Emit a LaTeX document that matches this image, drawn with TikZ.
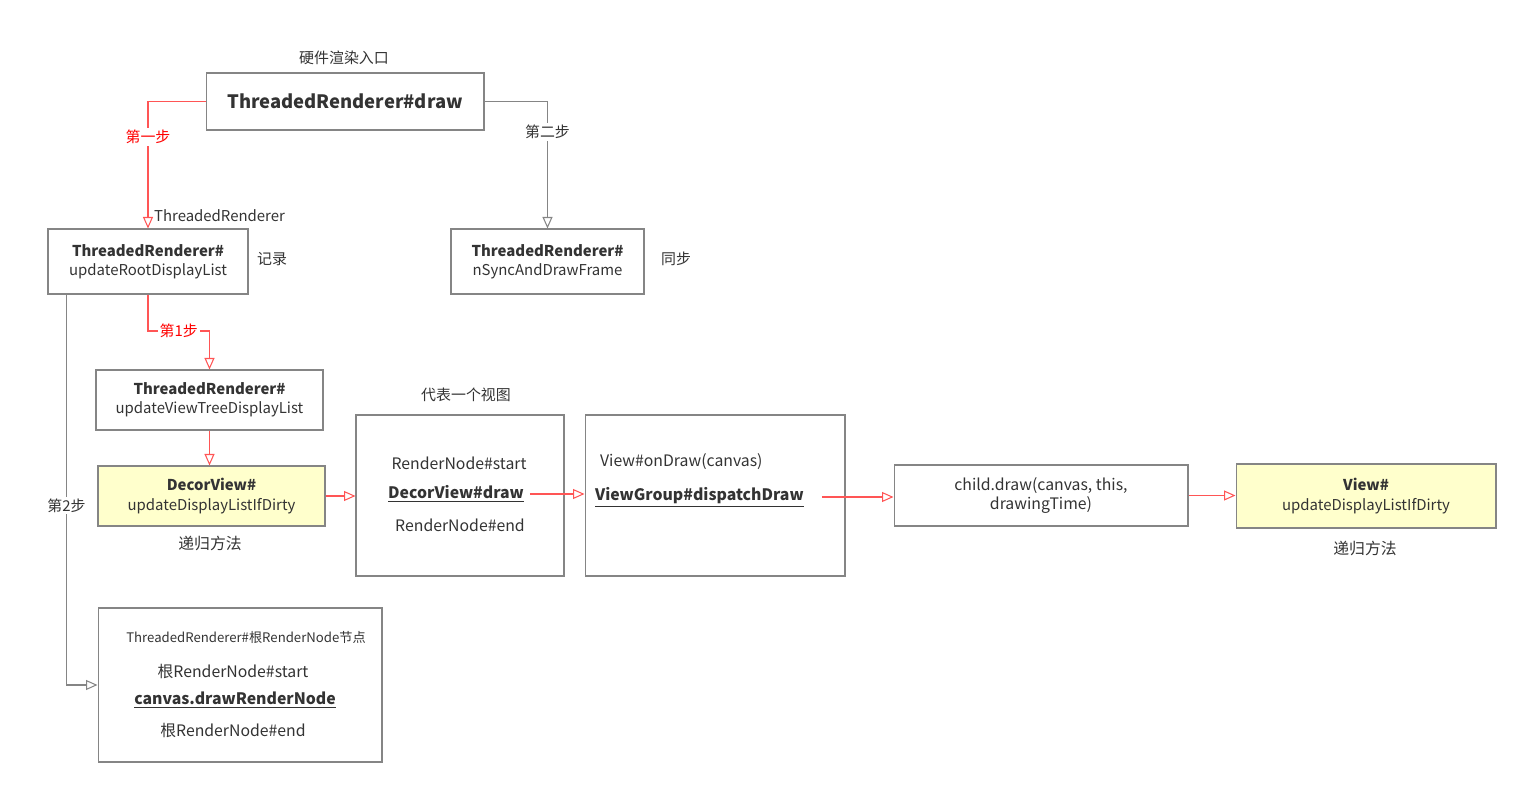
\documentclass[tikz,border=0pt]{standalone}
\usepackage{fontspec}
\setmainfont{Noto Sans CJK SC}
\usetikzlibrary{arrows.meta,positioning}
\definecolor{edgegray}{HTML}{858585}
\definecolor{linkred}{HTML}{FF5555}
\definecolor{notefill}{HTML}{FFFFCC}
\definecolor{txtgray}{HTML}{333333}

\begin{document}
\begin{tikzpicture}[x=0.02cm,y=-0.02cm,
  every node/.style={text=txtgray,font=\fontsize{8.5}{11}\selectfont},
  box/.style={draw=edgegray,line width=0.6pt,align=center,inner sep=0pt},
  notebox/.style={box,fill=notefill},
  lbl/.style={inner sep=1pt},
  redlink/.style={draw=linkred,line width=0.6pt,-{Triangle[open,length=2.3mm,width=2mm]}},
  graylink/.style={draw=edgegray,line width=0.6pt,-{Triangle[open,length=2.3mm,width=2mm]}}]
\useasboundingbox (0,0) rectangle (1528,794);

% boxes
\node[box,minimum width=5.56cm,minimum height=1.14cm,font=\fontsize{10.5}{12}\selectfont\bfseries] (draw) at (345,101.5) {ThreadedRenderer\#draw};
\node[lbl] (entry) at (344,58) {硬件渲染入口};
\node[box,minimum width=4cm,minimum height=1.3cm] (root) at (148,261.5) {\textbf{ThreadedRenderer\#}\\updateRootDisplayList};
\node[box,minimum width=3.86cm,minimum height=1.3cm] (sync) at (547.5,261.5) {\textbf{ThreadedRenderer\#}\\nSyncAndDrawFrame};
\node[lbl] (record) at (272,259) {记录};
\node[lbl] (syncnote) at (676,259) {同步};
\node[box,minimum width=4.54cm,minimum height=1.2cm] (viewtree) at (209.5,400) {\textbf{ThreadedRenderer\#}\\updateViewTreeDisplayList};
\node[notebox,minimum width=4.54cm,minimum height=1.2cm] (decor) at (211.5,496) {\textbf{DecorView\#}\\updateDisplayListIfDirty};
\node[lbl,font=\fontsize{9}{11}\selectfont] (recur1) at (210,543) {递归方法};

\node[box,minimum width=4.16cm,minimum height=3.22cm] (rnode) at (460,495.5) {};
\node[lbl] (viewnote) at (466,395) {代表一个视图};
\node[lbl,font=\fontsize{9}{11}\selectfont] (rnstart) at (459,463) {RenderNode\#start};
\node[lbl,font=\fontsize{9}{11}\selectfont\bfseries] (dvdraw) at (456,494) {\underline{DecorView\#draw}};
\node[lbl,font=\fontsize{9}{11}\selectfont] (rnend) at (460,525) {RenderNode\#end};

\node[box,minimum width=5.2cm,minimum height=3.22cm] (vgroup) at (715,495.5) {};
\node[lbl,anchor=west,font=\fontsize{9}{11}\selectfont] (ondraw) at (598,462) {View\#onDraw(canvas)};
\node[lbl,anchor=west,font=\fontsize{9}{11}\selectfont\bfseries] (dispatch) at (593,497) {\underline{ViewGroup\#dispatchDraw}};

\node[box,minimum width=5.88cm,minimum height=1.22cm,font=\fontsize{9}{11}\selectfont] (child) at (1041,495.5) {child.draw(canvas, this,\\drawingTime)};
\node[notebox,minimum width=5.2cm,minimum height=1.28cm] (view) at (1366,496) {\textbf{View\#}\\updateDisplayListIfDirty};
\node[lbl,font=\fontsize{9}{11}\selectfont] (recur2) at (1365,548) {递归方法};

\node[box,minimum width=5.68cm,minimum height=3.08cm] (rootrn) at (240,685) {};
\node[lbl,font=\fontsize{7.5}{9}\selectfont] (rootnote) at (246,637) {ThreadedRenderer\#根RenderNode节点};
\node[lbl,font=\fontsize{9}{11}\selectfont] (rootstart) at (233,671) {根RenderNode\#start};
\node[lbl,font=\fontsize{9}{11}\selectfont\bfseries] (drawrn) at (235,700) {\underline{canvas.drawRenderNode}};
\node[lbl,font=\fontsize{9}{11}\selectfont] (rootend) at (233,730) {根RenderNode\#end};

% links
\draw[redlink] (draw.west) -| (root.north)
  node[pos=0.64,fill=white,text=red,inner sep=1pt] {第一步};
\node[lbl,anchor=west] (trlabel) at (152,216) {ThreadedRenderer};
\draw[graylink] (draw.east) -| (sync.north)
  node[pos=0.62,fill=white,inner sep=1pt] {第二步};
\coordinate (bend1) at (148,331);
\draw[redlink] (root.south) -- (bend1) -| (viewtree.north)
  node[pos=0.25,fill=white,text=red,inner sep=1pt] {第1步};
\draw[redlink] (viewtree.south) -- (viewtree.south |- decor.north);
\draw[graylink] ([xshift=0.38cm]root.south west) |- (rootrn.west)
  node[pos=0.27,fill=white,inner sep=1pt] {第2步};
\draw[redlink] (decor.east) -- (decor.east -| rnode.west);
\draw[redlink] ([xshift=0.08cm]dvdraw.east) -- (dvdraw.east -| vgroup.west);
\draw[redlink] ([xshift=0.32cm]dispatch.east) -- (dispatch.east -| child.west);
\draw[redlink] (child.east) -- (child.east -| view.west);
\end{tikzpicture}
\end{document}
